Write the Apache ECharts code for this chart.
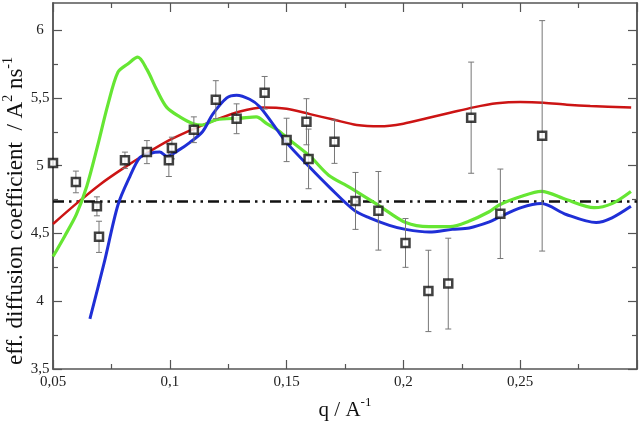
<!DOCTYPE html>
<html>
<head>
<meta charset="utf-8">
<script src="https://cdn.jsdelivr.net/npm/echarts@6/dist/echarts.min.js"></script>
<style>
  html, body { margin: 0; padding: 0; background: #fff; }
  #main { width: 640px; height: 423px; }
</style>
</head>
<body>
<div id="main"></div>
<script>
// measured points (q, D) with error bars
var qPts = [0.05, 0.0598, 0.0688, 0.0697, 0.0808, 0.0902, 0.0996, 0.1009, 0.1103, 0.1197, 0.1286, 0.1406,
            0.15, 0.1585, 0.1594, 0.1705, 0.1795, 0.1893, 0.2009, 0.2107, 0.2192, 0.229, 0.2415, 0.2594];
var dPts = [5.02, 4.88, 4.70, 4.475, 5.04, 5.10, 5.04, 5.13, 5.265, 5.487, 5.346, 5.538,
            5.19, 5.324, 5.05, 5.177, 4.74, 4.667, 4.43, 4.076, 4.13, 5.354, 4.645, 5.22];
var errPts = [0.02, 0.08, 0.07, 0.115, 0.06, 0.085, 0.12, 0.08, 0.095, 0.14, 0.11, 0.12,
              0.16, 0.17, 0.22, 0.16, 0.21, 0.29, 0.18, 0.30, 0.335, 0.41, 0.33, 0.85];

// red curve
var redQ = [0.05, 0.06, 0.07, 0.08, 0.09, 0.10, 0.11, 0.12, 0.13, 0.14, 0.15, 0.16, 0.17, 0.18,
            0.19, 0.20, 0.21, 0.22, 0.23, 0.24, 0.25, 0.26, 0.27, 0.28, 0.2975];
var redD = [4.57, 4.72, 4.86, 4.98, 5.09, 5.19, 5.27, 5.34, 5.40, 5.43, 5.42, 5.38, 5.34, 5.30,
            5.29, 5.31, 5.35, 5.39, 5.43, 5.46, 5.47, 5.465, 5.45, 5.44, 5.43];

// green curve
var greenQ = [0.05, 0.055, 0.06, 0.0645, 0.069, 0.0735, 0.0778, 0.082, 0.0863, 0.0902, 0.0944, 0.0987,
              0.1043, 0.11, 0.114, 0.12, 0.13, 0.137, 0.1415, 0.146, 0.1513, 0.16, 0.168, 0.177,
              0.19, 0.201, 0.211, 0.22, 0.228, 0.2367, 0.241, 0.25, 0.259, 0.2697, 0.2816, 0.2893, 0.2974];
var greenD = [4.33, 4.48, 4.64, 4.85, 5.14, 5.45, 5.69, 5.75, 5.80, 5.71, 5.56, 5.43,
              5.36, 5.31, 5.30, 5.34, 5.35, 5.36, 5.31, 5.265, 5.19, 5.07, 4.93, 4.84,
              4.70, 4.58, 4.55, 4.55, 4.59, 4.66, 4.71, 4.77, 4.81, 4.75, 4.69, 4.72, 4.81];

// blue curve
var blueQ = [0.0658, 0.072, 0.0778, 0.0829, 0.0872, 0.0915, 0.0957, 0.0987, 0.1043, 0.1085, 0.114,
             0.1184, 0.1244, 0.1286, 0.1342, 0.1385, 0.144, 0.15, 0.1598, 0.1684, 0.179, 0.1855,
             0.194, 0.2009, 0.2111, 0.2209, 0.2282, 0.2368, 0.241, 0.2504, 0.259, 0.2697, 0.2825,
             0.2893, 0.2974];
var blueD = [3.87, 4.29, 4.71, 4.92, 5.06, 5.09, 5.10, 5.07, 5.12, 5.17, 5.25,
             5.38, 5.50, 5.52, 5.49, 5.435, 5.31, 5.17, 4.99, 4.84, 4.67, 4.615,
             4.56, 4.53, 4.51, 4.53, 4.54, 4.585, 4.62, 4.69, 4.72, 4.64, 4.58,
             4.615, 4.70];

// horizontal dash-dot reference level
var refQ = [0.05, 0.3];
var refD = [4.735, 4.735];

var yMajor = [3.5, 4, 4.5, 5, 5.5, 6];
var yMinor = [3.75, 4.25, 4.75, 5.25, 5.75];

var serif = 'Liberation Serif';
var frame = '#555';

function zip(a, b) {
    var out = [];
    for (var i = 0; i < a.length; i++) out.push([a[i], b[i]]);
    return out;
}
function comma(v) {
    return String(+v.toFixed(2)).replace('.', ',');
}

var errData = [];
for (var i = 0; i < qPts.length; i++) {
    errData.push([qPts[i], dPts[i] - errPts[i], dPts[i] + errPts[i]]);
}

function xAx(pos, labels) {
    return {
        type: 'value', position: pos, min: 0.05, max: 0.3, interval: 0.05,
        axisLine: {show: true, onZero: false, lineStyle: {color: frame, width: 1.5}},
        axisTick: {show: true, inside: true, length: 9, lineStyle: {color: frame, width: 1.2}},
        minorTick: {show: true, splitNumber: 2, length: 5, lineStyle: {color: frame, width: 1.2}},
        splitLine: {show: false},
        axisLabel: {
            show: labels, margin: 6, fontFamily: serif, fontSize: 15, color: '#222',
            formatter: function (v) { return v > 0.29 ? '' : comma(v); }
        }
    };
}
function yAx(pos, ticks, len, labels) {
    return {
        type: 'value', position: pos, min: 3.5, max: 6.2,
        axisLine: {show: true, onZero: false, lineStyle: {color: frame, width: 1.5}},
        axisTick: {show: true, inside: true, length: len, customValues: ticks, lineStyle: {color: frame, width: 1.2}},
        splitLine: {show: false},
        axisLabel: {
            show: labels, customValues: yMajor, margin: 13, align: 'center',
            fontFamily: serif, fontSize: 15, color: '#222',
            formatter: function (v) { return comma(v); }
        }
    };
}

var yLeft = yAx('left', yMajor, 9, true);
yLeft.name = '{a|eff. diffusion coefficient  / A}{s|2}{a| ns}{s|-1}';
yLeft.nameLocation = 'middle';
yLeft.nameGap = 22;
yLeft.nameMoveOverlap = false;
yLeft.nameTextStyle = {
    padding: [0, 50, 0, 0],
    rich: {
        a: {fontFamily: serif, fontSize: 23, color: '#111', lineHeight: 30},
        s: {fontFamily: serif, fontSize: 14, color: '#111', lineHeight: 14, verticalAlign: 'top'}
    }
};

var xBottom = xAx('bottom', true);
xBottom.name = '{a|q / A}{s|-1}';
xBottom.nameLocation = 'middle';
xBottom.nameGap = 27;
xBottom.nameTextStyle = {
    rich: {
        a: {fontFamily: serif, fontSize: 21, color: '#111', lineHeight: 28},
        s: {fontFamily: serif, fontSize: 13, color: '#111', lineHeight: 13, verticalAlign: 'top'}
    }
};

var chart = echarts.init(document.getElementById('main'));
chart.setOption({
    animation: false,
    backgroundColor: '#fff',
    grid: {left: 53, right: 3, top: 3, bottom: 54, containLabel: false, outerBoundsMode: 'none'},
    xAxis: [xBottom, xAx('top', false)],
    yAxis: [
        yLeft,
        yAx('left', yMinor, 5, false),
        yAx('right', yMajor, 9, false),
        yAx('right', yMinor, 5, false)
    ],
    series: [
        {
            type: 'line', data: zip(refQ, refD), symbol: 'none', z: 2,
            lineStyle: {color: '#111', width: 2.5, type: [11, 5, 2.5, 5, 2.5, 5]}
        },
        {
            type: 'line', data: zip(redQ, redD), symbol: 'none', smooth: 0.3, z: 3,
            lineStyle: {color: '#cc1414', width: 2.5}
        },
        {
            type: 'line', data: zip(greenQ, greenD), symbol: 'none', smooth: 0.3, z: 3,
            lineStyle: {color: '#66e633', width: 3.2}
        },
        {
            type: 'line', data: zip(blueQ, blueD), symbol: 'none', smooth: 0.3, z: 3,
            lineStyle: {color: '#1f2fd6', width: 3}
        },
        {
            type: 'custom', z: 4,
            data: errData,
            encode: {x: 0, y: [1, 2]},
            renderItem: function (params, api) {
                var x = api.value(0);
                var top = api.coord([x, api.value(2)]);
                var bot = api.coord([x, api.value(1)]);
                var st = {stroke: '#777', lineWidth: 1};
                return {
                    type: 'group',
                    children: [
                        {type: 'line', shape: {x1: top[0], y1: top[1], x2: bot[0], y2: bot[1]}, style: st},
                        {type: 'line', shape: {x1: top[0] - 3, y1: top[1], x2: top[0] + 3, y2: top[1]}, style: st},
                        {type: 'line', shape: {x1: bot[0] - 3, y1: bot[1], x2: bot[0] + 3, y2: bot[1]}, style: st}
                    ]
                };
            }
        },
        {
            type: 'scatter', data: zip(qPts, dPts), symbol: 'rect', symbolSize: 8, z: 5,
            itemStyle: {color: '#fff', borderColor: '#111', borderWidth: 2.5}
        }
    ]
});
</script>
</body>
</html>
